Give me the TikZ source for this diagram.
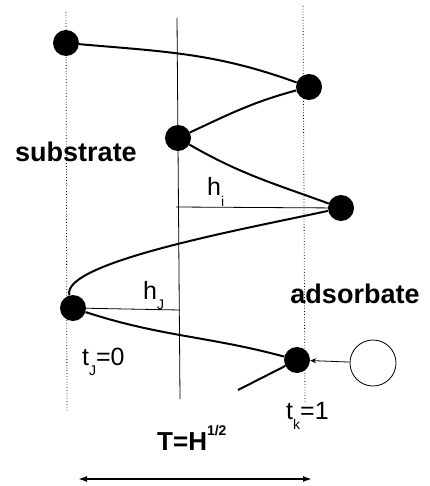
\documentclass[tikz,border=0pt]{standalone}
\usepackage{fontspec}
\setmainfont{Liberation Sans}
\usetikzlibrary{arrows.meta}

\tikzstyle{every node}=[inner sep=0pt]
\tikzstyle{bead}=[circle, fill=black, minimum size=26pt]
\tikzstyle{probe}=[circle, draw=black, line width=0.8pt, minimum size=46pt]
\tikzstyle{lbl}=[anchor=base west, font={\fontsize{25}{25}\selectfont}]
\tikzstyle{boldlbl}=[anchor=base, font={\fontsize{27}{27}\selectfont\bfseries}]
\tikzstyle{wall}=[dotted, line width=0.8pt]
\tikzstyle{chain}=[line width=2pt]

\newcommand{\lowidx}[1]{\raisebox{-10pt}{\fontsize{14}{14}\selectfont #1}}
\newcommand{\highidx}[1]{\raisebox{15pt}{\fontsize{14}{14}\selectfont #1}}

\begin{document}
\begin{tikzpicture}[x=1pt, y=1pt]
    \useasboundingbox (0,0) rectangle (429,-486);

    % walls and axis
    \coordinate (leftTop) at (66,-12);
    \coordinate (leftBot) at (67,-412);
    \coordinate (rightTop) at (303,-6);
    \coordinate (rightBot) at (305,-403);
    \coordinate (axisTop) at (177,-18);
    \coordinate (axisBot) at (180,-399);
    \draw [wall] (leftTop) -- (leftBot);
    \draw [wall] (rightTop) -- (rightBot);
    \draw [line width=0.8pt] (axisTop) -- (axisBot);

    % beads of the chain
    \node [bead] (bead1) at (66,-43) {};
    \node [bead] (bead2) at (309,-87) {};
    \node [bead] (bead3) at (178,-138) {};
    \node [bead] (bead4) at (341,-208) {};
    \node [bead] (bead5) at (73,-308) {};
    \node [bead] (bead6) at (297,-360) {};
    \coordinate (tail) at (238,-390);

    \draw [chain] (bead1) to[out=-5, in=160] (bead2)
        to[out=195, in=25] (bead3)
        to[out=-30, in=160] (bead4)
        .. controls (250,-228) and (60,-262) .. (bead5)
        to[out=-18, in=165] (bead6)
        -- (tail);

    % heights
    \coordinate (hiFoot) at (176,-207);
    \coordinate (hjFoot) at (180,-310);
    \draw [line width=0.8pt] (hiFoot) -- (bead4);
    \draw [line width=0.8pt] (bead5) -- (hjFoot);

    % probe
    \node [probe] (probe) at (373,-363) {};
    \draw [line width=0.8pt, -{Stealth[length=6pt, width=5pt]}] (probe) -- (bead6);

    % span
    \coordinate (spanL) at (78,-479);
    \coordinate (spanR) at (312,-479);
    \draw [line width=1.6pt, {Latex[length=9pt, width=6pt]}-{Latex[length=9pt, width=6pt]}] (spanL) -- (spanR);

    % labels
    \node [boldlbl] (substrate) at (76,-162) {substrate};
    \node [boldlbl] (adsorbate) at (355,-303) {adsorbate};
    \node [lbl] (hi) at (207,-196) {h\lowidx{i}};
    \node [lbl] (hj) at (143,-299) {h\lowidx{J}};
    \node [lbl] (tj) at (82,-365) {t\lowidx{J}=0};
    \node [lbl] (tk) at (286,-419) {t\lowidx{k}=1};
    \node [lbl, font={\fontsize{26}{26}\selectfont\bfseries}] (period) at (157,-450) {T=H\highidx{1/2}};
\end{tikzpicture}
\end{document}
